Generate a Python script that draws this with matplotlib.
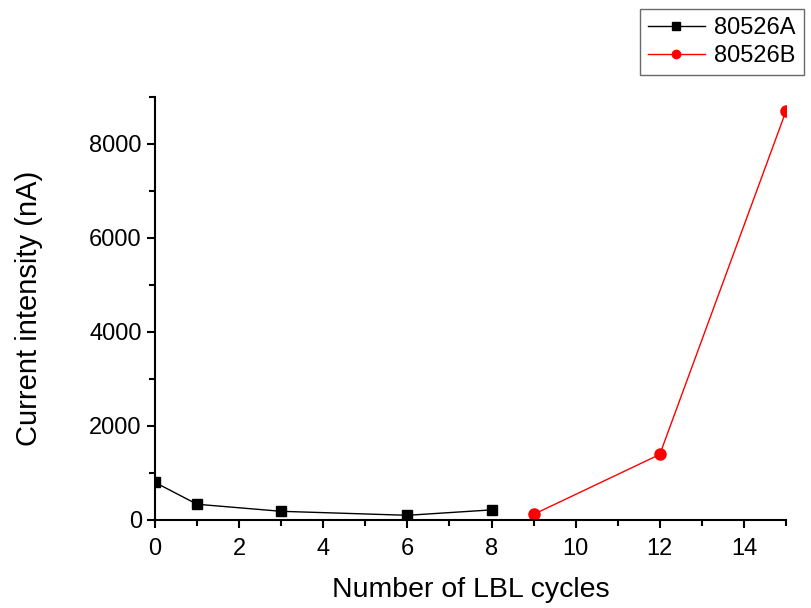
import matplotlib
matplotlib.use("Agg")
import matplotlib.pyplot as plt
from matplotlib.ticker import MultipleLocator

# data
cycles_a = [0, 1, 3, 6, 8]
current_a = [800, 335, 185, 100, 215]
cycles_b = [9, 12, 15]
current_b = [120, 1395, 8700]

plt.rcParams['font.family'] = ['Liberation Sans', 'DejaVu Sans']

fig = plt.figure(figsize=(8.11, 6.08), dpi=100)
ax = fig.add_axes([155 / 811, 88 / 608, 631 / 811, 423 / 608])

ax.plot(cycles_a, current_a, color='black', lw=1, marker='s', ms=7.5,
        label='80526A')
ax.plot(cycles_b, current_b, color='red', lw=1, marker='o', ms=8,
        label='80526B')

ax.set_xlim(0, 15)
ax.set_ylim(0, 9000)
ax.xaxis.set_major_locator(MultipleLocator(2))
ax.xaxis.set_minor_locator(MultipleLocator(1))
ax.yaxis.set_major_locator(MultipleLocator(2000))
ax.yaxis.set_minor_locator(MultipleLocator(1000))

for side in ['top', 'right']:
    ax.spines[side].set_visible(False)
for side in ['left', 'bottom']:
    ax.spines[side].set_linewidth(1.5)

ax.tick_params(which='major', direction='out', length=6, width=1.5,
               labelsize=17)
ax.tick_params(axis='x', which='major', pad=7)
ax.tick_params(which='minor', direction='out', length=4, width=1.5)

ax.set_xlabel('Number of LBL cycles', fontsize=20.5, labelpad=12)
ax.set_ylabel('Current intensity (nA)', fontsize=21)
ax.yaxis.set_label_coords(-0.178, 0.5)

leg = fig.legend(loc='upper right', bbox_to_anchor=(804 / 811, 1 - 9 / 608),
                 fontsize=17, frameon=True, fancybox=False,
                 borderpad=0.35, labelspacing=0.25, handlelength=2.4,
                 handletextpad=0.4, borderaxespad=0, markerscale=0.75)
leg.get_frame().set_edgecolor('#444444')
leg.get_frame().set_linewidth(1)

fig.savefig('out.png', dpi=100)
